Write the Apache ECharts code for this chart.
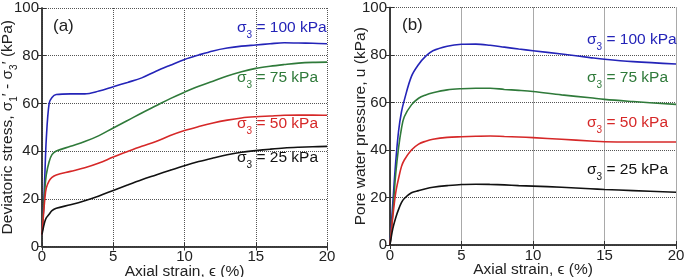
<!DOCTYPE html>
<html>
<head>
<meta charset="utf-8">
<style>
  html, body { margin: 0; padding: 0; background: #fff; }
  #chart { width: 685px; height: 277px; }
</style>
<script src="https://cdn.jsdelivr.net/npm/echarts@6/dist/echarts.min.js"></script>
</head>
<body>
<div id="chart"></div>
<script>
// (a) deviatoric stress vs axial strain
const strainA = [0, 0.1, 0.2, 0.3, 0.5, 0.7, 1, 2, 3, 4, 5, 6, 7, 8, 9, 10, 11, 12, 13, 14, 15, 16, 17, 18, 19, 20];
const devA100 = [5, 15, 30, 45, 60, 62.5, 63.7, 64, 64, 65.2, 67, 68.8, 70.7, 73.5, 76, 78.4, 80.3, 82, 83.2, 84, 84.5, 85, 85.4, 85.3, 85.2, 85];
const devA75 = [5, 15, 24, 30, 35.5, 38.5, 40, 42, 44, 46.5, 49.7, 52.8, 56, 59, 62, 64.7, 67.2, 69.3, 71.5, 73.3, 74.7, 75.6, 76.3, 76.9, 77.2, 77.3];
const devA50 = [5, 13, 20, 24.5, 27.5, 29, 30, 31.5, 33, 35, 37.5, 39.8, 42, 44, 46.5, 48.6, 50.3, 51.8, 53, 53.9, 54.4, 54.7, 55, 55.1, 55.1, 55];
const devA25 = [5, 8, 10.5, 12, 13.5, 15, 16, 17.5, 19.2, 21.2, 23.5, 25.8, 28, 30, 32, 33.9, 35.6, 37.1, 38.5, 39.5, 40.2, 40.8, 41.3, 41.6, 41.8, 42];

// (b) pore water pressure vs axial strain
const strainB = [0, 0.2, 0.4, 0.6, 0.8, 1, 1.5, 2, 2.5, 3, 4, 5, 6, 7, 8, 9, 10, 12, 14, 15, 17, 20];
const poreB100 = [0, 18, 35, 48, 56, 61, 71, 76, 79.5, 81.8, 83.7, 84.5, 84.6, 84.1, 83.3, 82.5, 81.8, 80.4, 78.9, 78.2, 77.2, 76.2];
const poreB75 = [0, 14, 30, 41, 49, 54, 59, 61.8, 63.2, 64.1, 65.3, 65.8, 66, 66, 65.5, 65.1, 64.6, 63.2, 62, 61.3, 60.4, 59.2];
const poreB50 = [0, 12, 22, 28, 33, 35.8, 40, 42.5, 43.7, 44.5, 45.3, 45.6, 45.8, 45.9, 45.7, 45.5, 45.2, 44.5, 43.8, 43.5, 43.4, 43.4];
const poreB25 = [0, 7, 11.5, 15, 17.8, 19.6, 22, 22.9, 23.7, 24.3, 25, 25.5, 25.6, 25.5, 25.3, 25, 24.8, 24.3, 23.7, 23.4, 22.9, 22.2];

const confining = ["100", "75", "50", "25"];
const colors = ["#2424b8", "#2f7a3a", "#d62828", "#111111"];

const FONT = "Liberation Sans";
const FRAME = "#333";

const zip = (xs, ys) => xs.map((x, i) => [x, ys[i]]);

function xAxes(gridIndex) {
  return [
    {
      gridIndex, type: "value", min: 0, max: 20, interval: 5,
      name: "Axial strain, ϵ (%)", nameLocation: "middle", nameGap: 17, nameMoveOverlap: false,
      nameTextStyle: { fontFamily: FONT, fontSize: 15.5, color: "#222" },
      axisLine: { lineStyle: { color: FRAME, width: 1.5 } },
      axisTick: { inside: true, length: 4, lineStyle: { color: FRAME } },
      axisLabel: { fontFamily: FONT, fontSize: 15, color: "#222", margin: 3 },
      splitLine: { show: true, lineStyle: { type: "dotted", color: "#555" } },
    },
    {
      gridIndex, type: "value", min: 0, max: 20, interval: 5, position: "top",
      axisLine: { show: true, lineStyle: { color: FRAME, width: 1.5 } },
      axisTick: { inside: true, length: 4, lineStyle: { color: FRAME } },
      axisLabel: { show: false }, splitLine: { show: false },
    },
  ];
}

function yAxes(gridIndex, name, gap) {
  return [
    {
      gridIndex, type: "value", min: 0, max: 100, interval: 20,
      name, nameLocation: "middle", nameGap: gap, nameMoveOverlap: false,
      nameTextStyle: {
        fontFamily: FONT, fontSize: 15.5, color: "#222",
        rich: {
          n: { fontFamily: FONT, fontSize: 15.5, color: "#222", lineHeight: 20 },
          sub: { fontFamily: FONT, fontSize: 10, color: "#222", verticalAlign: "bottom", lineHeight: 22 },
        },
      },
      axisLine: { show: true, lineStyle: { color: FRAME, width: 1.5 } },
      axisTick: { inside: true, length: 4, lineStyle: { color: FRAME } },
      axisLabel: { fontFamily: FONT, fontSize: 15, color: "#222", margin: 3 },
      splitLine: { show: true, lineStyle: { type: "dotted", color: "#555" } },
    },
    {
      gridIndex, type: "value", min: 0, max: 100, interval: 20, position: "right",
      axisLine: { show: true, lineStyle: { color: FRAME, width: 1.5 } },
      axisTick: { inside: true, length: 4, lineStyle: { color: FRAME } },
      axisLabel: { show: false }, splitLine: { show: false },
    },
  ];
}

function line(xAxisIndex, yAxisIndex, xs, ys, color) {
  return {
    type: "line", xAxisIndex, yAxisIndex, data: zip(xs, ys),
    smooth: 0.35, showSymbol: false, silent: true,
    lineStyle: { color, width: 1.6 }, z: 3,
  };
}

function sigmaLabel(left, top, p, color) {
  return {
    type: "text", left, top, silent: true,
    style: {
      text: "{s|σ}{sub|3}{s| = " + p + " kPa}",
      rich: {
        s: { fontFamily: FONT, fontSize: 15.5, fill: color, lineHeight: 18 },
        sub: { fontFamily: FONT, fontSize: 10, fill: color, verticalAlign: "bottom", lineHeight: 24 },
      },
    },
  };
}

const labelTopsA = [20, 70, 116, 150];
const labelTopsB = [32, 70, 115, 162];

const chart = echarts.init(document.getElementById("chart"), null, { renderer: "canvas" });
chart.setOption({
  animation: false,
  backgroundColor: "#fff",
  grid: [
    { left: 42, top: 8, width: 285, height: 238.5, outerBoundsMode: "none", containLabel: false },
    { left: 390, top: 7.5, width: 286, height: 237.5, outerBoundsMode: "none", containLabel: false },
  ],
  xAxis: [...xAxes(0), ...xAxes(1)],
  yAxis: [
    ...yAxes(0, "{n|Deviatoric stress, σ}{sub|1}{n|′ - σ}{sub|3}{n|′ (kPa)}", 23),
    ...yAxes(1, "Pore water pressure, u (kPa)", 21),
  ],
  series: [
    line(0, 0, strainA, devA100, colors[0]),
    line(0, 0, strainA, devA75, colors[1]),
    line(0, 0, strainA, devA50, colors[2]),
    line(0, 0, strainA, devA25, colors[3]),
    line(2, 2, strainB, poreB100, colors[0]),
    line(2, 2, strainB, poreB75, colors[1]),
    line(2, 2, strainB, poreB50, colors[2]),
    line(2, 2, strainB, poreB25, colors[3]),
  ],
  graphic: [
    { type: "text", left: 53, top: 18, style: { text: "(a)", fontFamily: FONT, fontSize: 17, fill: "#222" } },
    { type: "text", left: 402, top: 17, style: { text: "(b)", fontFamily: FONT, fontSize: 17, fill: "#222" } },
    ...confining.map((p, i) => sigmaLabel(237, labelTopsA[i], p, colors[i])),
    ...confining.map((p, i) => sigmaLabel(587, labelTopsB[i], p, colors[i])),
  ],
});
</script>
</body>
</html>
